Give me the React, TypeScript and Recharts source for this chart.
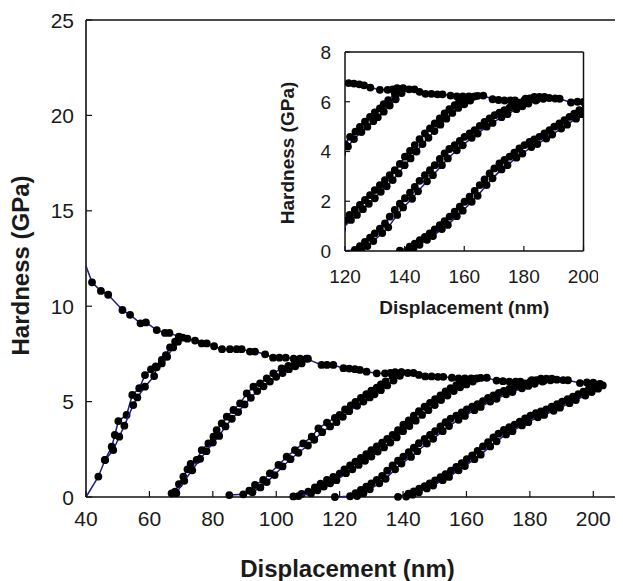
import React from 'react';
import {
    ScatterChart,
    Scatter,
    XAxis,
    YAxis,
    ReferenceLine,
} from 'recharts';

const FONT = '"Liberation Sans", Arial, Helvetica, sans-serif';
const INK = '#111';
const LINE = '#1c1c8a';

// tick labels
const mainXTicks = [40, 60, 80, 100, 120, 140, 160, 180, 200];
const mainYTicks = [0, 5, 10, 15, 20, 25];
const insetXTicks = [120, 140, 160, 180, 200];
const insetYTicks = [0, 2, 4, 6, 8];

// loading envelope (displacement nm, hardness GPa)
const envelope: [number, number][] = [
    [41.9, 11.25], [44.7, 10.8], [47.0, 10.6], [51.5, 9.8], [53.9, 9.55], [57.2, 9.1],
    [58.9, 9.15], [62.3, 8.75], [64.9, 8.6], [66.3, 8.6], [69.3, 8.4], [72.0, 8.3],
    [74.4, 8.2], [76.5, 8.05], [78.1, 8.05], [80.4, 7.9], [82.9, 7.75], [85.4, 7.75],
    [87.5, 7.75], [89.1, 7.75], [91.7, 7.62], [93.3, 7.62], [96.5, 7.48], [99.0, 7.3],
    [101.0, 7.3], [103.0, 7.3], [105.5, 7.25], [107.5, 7.25], [109.5, 7.25], [114.3, 6.92],
    [116.0, 6.92], [118.0, 6.92], [121.2, 6.75], [123.0, 6.73], [124.8, 6.7], [126.4, 6.66],
    [128.5, 6.57], [131.7, 6.48], [134.3, 6.48], [136.0, 6.5], [137.5, 6.55], [139.5, 6.55],
    [141.5, 6.5], [143.3, 6.5], [145.0, 6.4], [147.0, 6.32], [149.0, 6.32], [151.0, 6.3],
    [152.7, 6.3], [155.4, 6.25], [157.5, 6.22], [159.5, 6.22], [161.5, 6.22], [163.5, 6.22],
    [166.4, 6.25], [169.5, 6.1], [171.5, 6.07], [173.5, 6.05], [175.5, 6.05], [177.0, 6.05],
    [180.6, 6.12], [182.5, 6.1], [184.5, 6.1], [186.5, 6.12], [188.5, 6.15], [190.5, 6.13],
    [192.0, 6.12], [195.8, 5.97], [198.0, 6.0], [200.0, 5.99], [202.1, 5.93],
];

// fitted line ends that carry no measured dot
const envelopeLead: [number, number][] = [[40.0, 12.1], [41.9, 11.25]];
const loop1Lead: [number, number][] = [[40.0, 0.0], [43.9, 1.07]];

// cycle 1
const loop1A: [number, number][] = [
    [43.9, 1.07], [46.0, 1.94], [48.1, 2.64], [49.1, 3.25], [50.2, 3.98], [52.8, 4.3],
    [54.6, 5.35], [56.8, 5.7], [58.6, 6.39], [60.5, 6.69], [62.0, 6.85], [63.9, 7.18],
    [65.2, 7.44], [66.5, 7.84], [68.1, 8.14], [69.3, 8.37],
];
const loop1B: [number, number][] = [
    [46.0, 1.94], [48.6, 2.46], [50.5, 3.16], [52.1, 3.74], [54.9, 4.82], [56.2, 5.22],
    [58.6, 5.78], [61.5, 6.34], [62.3, 6.8], [63.9, 7.0], [65.6, 7.35], [67.5, 7.84],
    [69.0, 8.14], [70.5, 8.35],
];

// cycle 2
const loop2A: [number, number][] = [
    [67.0, 0.19], [68.1, 0.28], [69.3, 0.68], [70.7, 1.07], [72.0, 1.45], [73.0, 1.73],
    [74.9, 1.94], [76.5, 2.46], [78.6, 2.81], [80.2, 3.16], [81.2, 3.51], [82.8, 3.86],
    [84.4, 4.21], [86.5, 4.56], [88.6, 4.91], [90.7, 5.43], [92.8, 5.78], [94.9, 5.96],
    [97.0, 6.22], [99.1, 6.48], [101.7, 6.74], [103.8, 6.87], [105.9, 7.01], [108.0, 7.18],
    [110.0, 7.25],
];
const loop2B: [number, number][] = [
    [68.5, 0.2], [71.0, 0.85], [73.5, 1.4], [76.0, 2.0], [78.0, 2.4], [80.0, 2.85],
    [82.0, 3.2], [84.0, 3.7], [86.0, 4.1], [88.0, 4.45], [90.0, 4.85], [92.0, 5.2],
    [94.0, 5.55], [96.0, 5.8], [98.0, 6.05], [100.0, 6.3], [102.0, 6.5], [104.0, 6.7],
    [106.0, 6.85], [108.0, 7.0],
];

// cycle 3
const loop3A: [number, number][] = [
    [85.2, 0.1], [89.6, 0.14], [91.5, 0.33], [93.3, 0.63], [95.9, 0.89], [98.0, 1.24],
    [100.7, 1.68], [103.3, 2.11], [105.9, 2.46], [108.5, 2.81], [111.2, 3.16], [113.3, 3.6],
    [116.0, 3.9], [118.5, 4.15], [120.0, 4.3], [121.7, 4.59], [123.5, 4.8], [125.0, 4.99],
    [126.7, 5.2], [128.4, 5.39], [130.0, 5.57], [131.7, 5.73], [133.0, 5.9], [134.5, 6.06],
    [136.7, 6.33], [138.0, 6.45], [139.5, 6.53],
];
const loop3B: [number, number][] = [
    [92.5, 0.25], [95.0, 0.5], [97.0, 0.78], [99.5, 1.15], [102.0, 1.6], [104.5, 1.98],
    [107.0, 2.32], [110.0, 2.7], [112.0, 3.0], [114.5, 3.4], [117.0, 3.7], [119.0, 3.92],
    [121.0, 4.2], [123.0, 4.5], [125.5, 4.78], [127.5, 5.0], [129.5, 5.22], [131.0, 5.38],
    [133.0, 5.6], [135.0, 5.85], [137.0, 6.1], [139.0, 6.35],
];

// cycle 4
const loop4A: [number, number][] = [
    [105.4, 0.03], [108.0, 0.16], [110.1, 0.28], [112.2, 0.5], [114.0, 0.7], [116.0, 0.9],
    [118.0, 1.05], [120.0, 1.22], [121.5, 1.45], [123.3, 1.65], [125.0, 1.85], [126.7, 2.05],
    [128.4, 2.25], [130.0, 2.45], [131.7, 2.65], [133.4, 2.85], [135.0, 3.05], [136.7, 3.25],
    [138.4, 3.5], [140.1, 3.79], [141.8, 4.02], [143.4, 4.26], [145.0, 4.5], [146.8, 4.73],
    [148.5, 4.93], [150.1, 5.13], [151.8, 5.33], [153.4, 5.53], [155.0, 5.7], [156.8, 5.86],
    [158.2, 5.97], [159.6, 6.06], [161.2, 6.14], [162.9, 6.2], [164.5, 6.24],
];
const loop4B: [number, number][] = [
    [107.0, 0.05], [111.0, 0.2], [113.0, 0.35], [115.0, 0.55], [117.0, 0.72], [119.0, 0.88],
    [122.0, 1.25], [124.0, 1.45], [126.0, 1.68], [128.0, 1.9], [130.0, 2.12], [132.0, 2.38],
    [134.0, 2.6], [136.0, 2.85], [138.0, 3.12], [140.0, 3.45], [142.0, 3.72], [144.0, 4.0],
    [146.0, 4.3], [148.0, 4.55], [150.0, 4.82], [152.0, 5.08], [154.0, 5.32], [156.0, 5.55],
    [158.0, 5.75], [160.0, 5.9], [162.0, 6.05],
];

// cycle 5
const loop5A: [number, number][] = [
    [118.5, 0.0], [123.3, 0.04], [125.0, 0.2], [126.7, 0.37], [128.4, 0.54], [130.0, 0.71],
    [131.7, 0.9], [133.4, 1.11], [135.0, 1.38], [136.7, 1.65], [138.4, 1.9], [140.1, 2.12],
    [141.8, 2.35], [143.4, 2.58], [145.0, 2.82], [146.8, 3.05], [148.5, 3.25], [150.1, 3.45],
    [151.8, 3.7], [153.4, 3.92], [155.0, 4.1], [156.8, 4.26], [158.5, 4.43], [160.1, 4.59],
    [161.8, 4.73], [163.5, 4.86], [165.2, 5.03], [166.8, 5.19], [168.5, 5.33], [170.2, 5.46],
    [171.8, 5.56], [173.5, 5.66], [175.2, 5.76], [176.9, 5.86], [178.5, 5.96], [180.2, 6.06],
    [182.0, 6.13], [183.5, 6.2], [185.2, 6.2], [186.9, 6.2],
];
const loop5B: [number, number][] = [
    [125.5, 0.05], [127.5, 0.2], [129.5, 0.4], [132.5, 0.72], [134.5, 0.95], [137.5, 1.45],
    [139.5, 1.75], [142.5, 2.1], [144.5, 2.4], [147.5, 2.8], [149.5, 3.05], [152.5, 3.45],
    [154.5, 3.72], [157.5, 4.05], [159.5, 4.25], [162.5, 4.55], [164.5, 4.72], [167.5, 5.0],
    [169.5, 5.15], [172.5, 5.38], [174.5, 5.5], [177.5, 5.7], [179.5, 5.82], [181.5, 5.93],
    [184.0, 6.05],
];

// cycle 6
const loop6A: [number, number][] = [
    [138.4, 0.01], [141.7, 0.17], [143.4, 0.3], [145.1, 0.44], [146.8, 0.57], [148.4, 0.71],
    [150.1, 0.87], [151.8, 1.04], [153.4, 1.2], [155.1, 1.38], [156.8, 1.58], [158.5, 1.78],
    [160.1, 1.98], [161.8, 2.18], [163.5, 2.42], [165.2, 2.65], [166.8, 2.88], [168.5, 3.12],
    [170.1, 3.32], [171.8, 3.52], [173.5, 3.66], [175.2, 3.79], [176.8, 3.95], [178.5, 4.12],
    [180.2, 4.26], [181.9, 4.39], [183.5, 4.49], [185.2, 4.59], [186.9, 4.73], [188.6, 4.86],
    [190.2, 5.0], [191.9, 5.13], [193.6, 5.26], [195.3, 5.39], [196.9, 5.52], [198.6, 5.66],
    [200.8, 5.8], [202.0, 5.9],
];
const loop6B: [number, number][] = [
    [141.0, 0.02], [143.0, 0.12], [145.0, 0.25], [147.5, 0.45], [149.5, 0.6], [152.5, 0.88],
    [154.5, 1.05], [157.5, 1.4], [159.5, 1.62], [162.5, 1.98], [164.5, 2.22], [167.5, 2.65],
    [169.5, 2.92], [172.5, 3.28], [174.5, 3.45], [177.5, 3.75], [179.5, 3.92], [182.5, 4.18],
    [184.5, 4.3], [187.5, 4.52], [189.5, 4.68], [192.5, 4.92], [194.5, 5.08], [197.5, 5.32],
    [199.5, 5.5], [201.5, 5.68], [203.0, 5.85],
];

const seriesList = [
    envelope, loop1A, loop1B, loop2A, loop2B, loop3A, loop3B,
    loop4A, loop4B, loop5A, loop5B, loop6A, loop6B,
];
const leadList = [envelopeLead, loop1Lead];

const toPts = (a: [number, number][]) => a.map(([x, y]) => ({ x, y }));
const seriesData = seriesList.map(toPts);
const leadData = leadList.map(toPts);

const Dot = (p: any) => <circle cx={p.cx} cy={p.cy} r={3.9} fill="#000" />;
const NoDot = () => <g />;

function yTick(len: number, gap: number, fs: number) {
    return (p: any) => (
        <g>
            <line x1={p.x} y1={p.y} x2={p.x + len} y2={p.y} stroke={INK} strokeWidth={1.2} />
            <text x={p.x - gap} y={p.y + fs * 0.36} textAnchor="end" fontSize={fs}
                fontFamily={FONT} fill="#1a1a1a">{p.payload.value}</text>
        </g>
    );
}

function xTick(len: number, base: number, fs: number) {
    return (p: any) => (
        <g>
            <line x1={p.x} y1={p.y} x2={p.x} y2={p.y - len} stroke={INK} strokeWidth={1.2} />
            <text x={p.x} y={p.y + base} textAnchor="middle" fontSize={fs}
                fontFamily={FONT} fill="#1a1a1a">{p.payload.value}</text>
        </g>
    );
}

function renderSeries() {
    const leads = leadData.map((d, i) => (
        <Scatter
            key={'lead' + i}
            data={d}
            shape={NoDot}
            line={{ stroke: LINE, strokeWidth: 1.5 }}
            isAnimationActive={false}
        />
    ));
    const marks = seriesData.map((d, i) => (
        <Scatter
            key={i}
            data={d}
            shape={Dot}
            line={{ stroke: LINE, strokeWidth: 1.5 }}
            isAnimationActive={false}
        />
    ));
    return [...leads, ...marks];
}

export default function App() {
    return (
        <div style={{ position: 'relative', width: 615, height: 573, overflow: 'hidden' }}>
            <ScatterChart width={620} height={573} margin={{ top: 12, right: 3, bottom: 3, left: 0 }}>
                <XAxis
                    type="number"
                    dataKey="x"
                    domain={[40, 210]}
                    ticks={mainXTicks}
                    interval={0}
                    height={81}
                    tickSize={0}
                    tickMargin={0}
                    tickLine={false}
                    tick={xTick(6, 29, 21)}
                    axisLine={{ stroke: INK, strokeWidth: 1.6 }}
                    label={{
                        content: (p: any) => (
                            <text x={p.viewBox.x + p.viewBox.width / 2 - 8} y={p.viewBox.y + 80}
                                textAnchor="middle" fontSize={24} fontWeight="bold"
                                fontFamily={FONT} fill="#1a1a1a">Displacement (nm)</text>
                        ),
                    }}
                />
                <YAxis
                    type="number"
                    dataKey="y"
                    domain={[0, 25]}
                    ticks={mainYTicks}
                    interval={0}
                    width={78}
                    tickSize={0}
                    tickMargin={0}
                    tickLine={false}
                    tick={yTick(6, 12, 21)}
                    axisLine={{ stroke: INK, strokeWidth: 1.6 }}
                    label={{
                        content: (p: any) => {
                            const cy = p.viewBox.y + p.viewBox.height / 2 + 7;
                            return (
                                <text x={20.5} y={cy} transform={`rotate(-90 20.5 ${cy})`}
                                    textAnchor="middle" fontSize={24} fontWeight="bold"
                                    fontFamily={FONT} fill="#1a1a1a">Hardness (GPa)</text>
                            );
                        },
                    }}
                />
                <ReferenceLine y={25} stroke={INK} strokeWidth={1.5} />
                {renderSeries()}
            </ScatterChart>

            <div style={{ position: 'absolute', left: 260, top: 30 }}>
                <ScatterChart width={330} height={290} margin={{ top: 14, right: 14.5, bottom: 0, left: 0 }}>
                    <XAxis
                        type="number"
                        dataKey="x"
                        domain={[120, 200]}
                        allowDataOverflow
                        ticks={insetXTicks}
                        interval={0}
                        height={77}
                        tickSize={0}
                        tickMargin={0}
                        tickLine={false}
                        tick={xTick(5, 32, 19)}
                        axisLine={{ stroke: INK, strokeWidth: 1.5 }}
                        label={{
                            content: (p: any) => (
                                <text x={p.viewBox.x + p.viewBox.width / 2} y={p.viewBox.y + 63}
                                    textAnchor="middle" fontSize={19} fontWeight="bold"
                                    fontFamily={FONT} fill="#1a1a1a">Displacement (nm)</text>
                            ),
                        }}
                    />
                    <YAxis
                        type="number"
                        dataKey="y"
                        domain={[0, 8]}
                        allowDataOverflow
                        ticks={insetYTicks}
                        interval={0}
                        width={77}
                        tickSize={0}
                        tickMargin={0}
                        tickLine={false}
                        tick={yTick(5, 14, 19)}
                        axisLine={{ stroke: INK, strokeWidth: 1.5 }}
                        label={{
                            content: (p: any) => {
                                const cy = p.viewBox.y + p.viewBox.height / 2 + 1.5;
                                return (
                                    <text x={26} y={cy} transform={`rotate(-90 26 ${cy})`}
                                        textAnchor="middle" fontSize={19} fontWeight="bold"
                                        fontFamily={FONT} fill="#1a1a1a">Hardness (GPa)</text>
                                );
                            },
                        }}
                    />
                    <ReferenceLine y={8} stroke={INK} strokeWidth={1.5} />
                    <ReferenceLine x={200} stroke={INK} strokeWidth={1.5} />
                    {renderSeries()}
                </ScatterChart>
            </div>
        </div>
    );
}
